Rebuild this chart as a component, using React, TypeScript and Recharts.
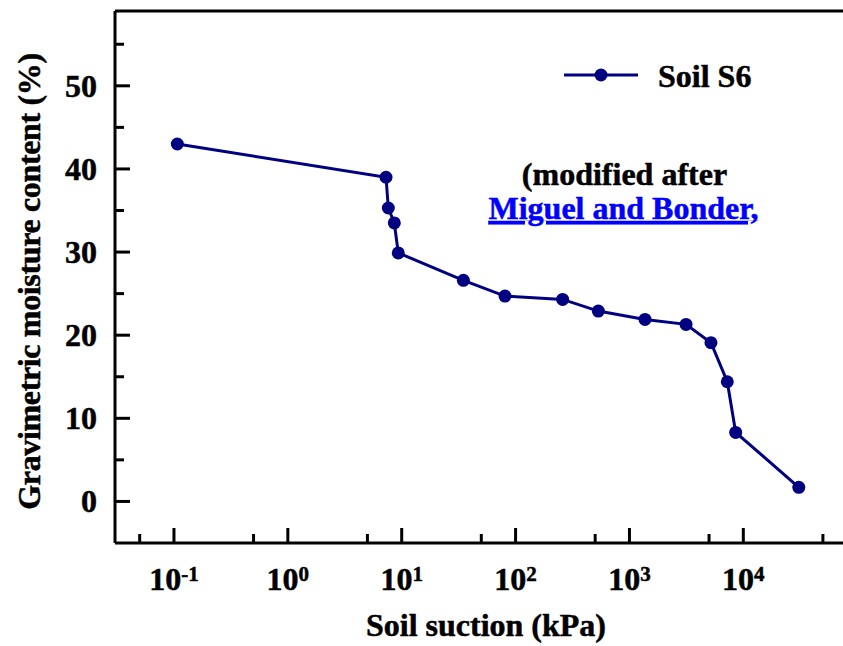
import React from 'react';
import { LineChart, Line, XAxis, YAxis } from 'recharts';

// Soil-water characteristic curve, soil S6
const suction = [0.107, 7.28, 7.63, 8.61, 9.33, 34.8, 80.7, 259, 533, 1370, 3140, 5200, 7230, 8570, 30700];
const moisture = [43.0, 39.0, 35.3, 33.5, 29.9, 26.6, 24.7, 24.3, 22.9, 21.9, 21.3, 19.1, 14.4, 8.3, 1.7];

const seriesName = 'Soil S6';
const xTicks = [0.05, 0.1, 0.5, 1, 5, 10, 50, 100, 500, 1000, 5000, 10000, 50000];
const yTicks = [0, 5, 10, 15, 20, 25, 30, 35, 40, 45, 50, 55];
const xTitle = 'Soil suction (kPa)';
const yTitle = 'Gravimetric moisture content (%)';
const noteLine1 = '(modified after';
const noteLine2 = 'Miguel and Bonder,';

const data = suction.map((s, i) => ({ suction: s, moisture: moisture[i] }));

const FONT = '"Liberation Serif", "Times New Roman", serif';
const NAVY = '#000080';
// plot runs past the right edge of the visible frame
const X_DOMAIN: [number, number] = [Math.pow(10, -1.5178), Math.pow(10, 5.0247)];
const Y_DOMAIN: [number, number] = [-5, 59];

// bold serif text with a hairline outline for a heavier face
const textStyle = {
  fontFamily: FONT,
  fontWeight: 'bold' as const,
  fontSize: 32,
  strokeWidth: 0.5,
};

const XTick = (props: any) => {
  const { x, y, payload } = props;
  const v = payload.value as number;
  const lg = Math.log10(v);
  const exp = Math.round(lg);
  const major = Math.abs(lg - exp) < 1e-6;
  return (
    <g>
      <line x1={x} x2={x} y1={y} y2={y - (major ? 15 : 9)} stroke="#000" strokeWidth={3} />
      {major && (
        <text x={x} y={y + 47} textAnchor="middle" {...textStyle} fill="#000" stroke="#000">
          10
          <tspan dy={-9} fontSize={21}>{String(exp)}</tspan>
        </text>
      )}
    </g>
  );
};

const YTick = (props: any) => {
  const { x, y, payload } = props;
  const v = payload.value as number;
  const major = v % 10 === 0;
  return (
    <g>
      <line x1={x} x2={x + (major ? 15 : 9)} y1={y} y2={y} stroke="#000" strokeWidth={3} />
      {major && (
        <text x={x - 18} y={y + 11} textAnchor="end" {...textStyle} fill="#000" stroke="#000">
          {v}
        </text>
      )}
    </g>
  );
};

const XTitle = (props: any) => {
  const vb = props.viewBox || { x: 115, y: 543 };
  return (
    <text x={vb.x + 371} y={vb.y + 93} textAnchor="middle" {...textStyle} fill="#000" stroke="#000">
      {xTitle}
    </text>
  );
};

const YTitle = (props: any) => {
  const vb = props.viewBox || { x: 0, y: 11 };
  const cx = vb.x + 40;
  const cy = vb.y + 270.5;
  return (
    <text
      x={cx}
      y={cy}
      transform={`rotate(-90 ${cx} ${cy})`}
      textAnchor="middle"
      {...textStyle}
      letterSpacing={-0.35}
      fill="#000"
      stroke="#000"
    >
      {yTitle}
    </text>
  );
};

// series key and source note, placed inside the plot's upper right
const KeyAndNote = (props: any) => {
  const vb = props.viewBox || { x: 115, y: 10 };
  const ox = vb.x - 115;
  const oy = vb.y - 10;
  return (
    <g>
      <line x1={ox + 564} x2={ox + 638} y1={oy + 75} y2={oy + 75} stroke={NAVY} strokeWidth={3} />
      <circle cx={ox + 601} cy={oy + 75} r={6.5} fill={NAVY} />
      <text x={ox + 658} y={oy + 87} {...textStyle} fill="#000" stroke="#000">
        {seriesName}
      </text>
      <text x={ox + 624.5} y={oy + 185} textAnchor="middle" {...textStyle} fill="#000" stroke="#000">
        {noteLine1}
      </text>
      <text
        x={ox + 623.5}
        y={oy + 219}
        textAnchor="middle"
        {...textStyle}
        fill="#0000FF"
        stroke="#0000FF"
        style={{ textDecoration: 'underline' }}
      >
        {noteLine2}
      </text>
    </g>
  );
};

export default function App() {
  return (
    <div
      style={{ position: 'absolute', left: 0, top: 0, width: 843, height: 646, overflow: 'hidden', background: '#fff' }}
    >
      <LineChart width={860} height={646} data={data} margin={{ top: 10, right: 0, bottom: 0, left: 0 }}>
        <XAxis
          dataKey="suction"
          type="number"
          scale="log"
          domain={X_DOMAIN}
          allowDataOverflow
          ticks={xTicks}
          interval={0}
          height={103}
          tickSize={0}
          tickMargin={0}
          tickLine={false}
          axisLine={{ stroke: '#000', strokeWidth: 3 }}
          tick={<XTick />}
          label={<XTitle />}
        />
        <XAxis
          xAxisId="frame"
          orientation="top"
          dataKey="suction"
          type="number"
          scale="log"
          domain={X_DOMAIN}
          allowDataOverflow
          height={1}
          ticks={xTicks}
          tick={false}
          tickLine={false}
          axisLine={{ stroke: '#000', strokeWidth: 3 }}
          label={<KeyAndNote />}
        />
        <YAxis
          type="number"
          domain={Y_DOMAIN}
          allowDataOverflow
          ticks={yTicks}
          interval={0}
          width={115}
          tickSize={0}
          tickMargin={0}
          tickLine={false}
          axisLine={{ stroke: '#000', strokeWidth: 3 }}
          tick={<YTick />}
          label={<YTitle />}
        />
        <Line
          type="linear"
          dataKey="moisture"
          name={seriesName}
          stroke={NAVY}
          strokeWidth={3}
          dot={{ r: 6.5, fill: NAVY, stroke: NAVY, strokeWidth: 0 }}
          activeDot={false}
          isAnimationActive={false}
        />
      </LineChart>
    </div>
  );
}
